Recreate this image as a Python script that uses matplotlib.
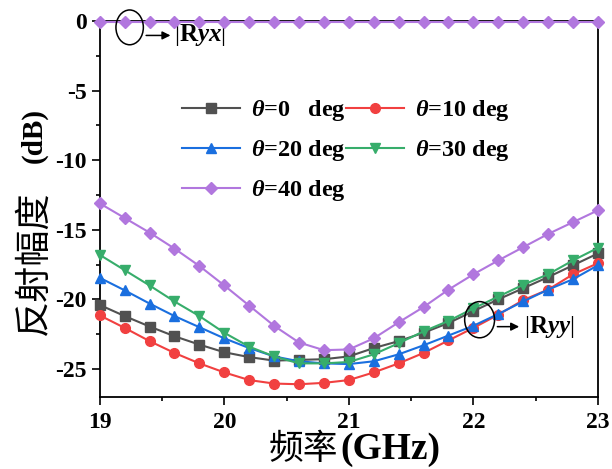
import matplotlib
matplotlib.use('agg')
from matplotlib import pyplot as plt
from matplotlib.patches import Ellipse

plt.rcParams['font.family'] = ['Liberation Serif', 'Noto Sans CJK SC']
plt.rcParams['axes.unicode_minus'] = False
plt.rcParams['mathtext.fontset'] = 'custom'
plt.rcParams['mathtext.rm'] = 'Liberation Serif'
plt.rcParams['mathtext.bf'] = 'Liberation Serif:bold'
plt.rcParams['mathtext.it'] = 'Liberation Serif:italic:bold'

freq = [19.0, 19.2, 19.4, 19.6, 19.8, 20.0, 20.2, 20.4, 20.6, 20.8, 21.0,
        21.2, 21.4, 21.6, 21.8, 22.0, 22.2, 22.4, 22.6, 22.8, 23.0]

ryy_0 = [-20.4, -21.2, -21.95, -22.65, -23.25, -23.8, -24.15, -24.4, -24.35, -24.3, -24.1,
         -23.5, -23.0, -22.4, -21.7, -20.85, -20.0, -19.2, -18.4, -17.55, -16.7]
ryy_10 = [-21.15, -22.05, -23.0, -23.85, -24.6, -25.25, -25.8, -26.05, -26.1, -26.0, -25.8,
          -25.25, -24.6, -23.85, -22.95, -22.05, -21.1, -20.05, -19.3, -18.2, -17.4]
ryy_20 = [-18.45, -19.35, -20.3, -21.2, -22.0, -22.8, -23.5, -24.1, -24.45, -24.6, -24.65,
          -24.45, -23.95, -23.3, -22.6, -21.9, -21.05, -20.15, -19.3, -18.55, -17.55]
ryy_30 = [-16.8, -17.9, -19.0, -20.15, -21.2, -22.4, -23.4, -24.1, -24.6, -24.6, -24.5,
          -23.95, -23.15, -22.3, -21.55, -20.65, -19.8, -18.95, -18.2, -17.2, -16.3]
ryy_40 = [-13.1, -14.15, -15.2, -16.35, -17.6, -19.0, -20.45, -21.9, -23.1, -23.65, -23.6,
          -22.8, -21.65, -20.55, -19.3, -18.2, -17.2, -16.25, -15.3, -14.45, -13.6]
ryx_40 = [-0.05] * 21

labels = [r'$\theta$=0   deg', r'$\theta$=10 deg', r'$\theta$=20 deg',
          r'$\theta$=30 deg', r'$\theta$=40 deg']
colors = ['#515151', '#F14040', '#1A6FDF', '#37AD6B', '#B177DE']
markers = ['s', 'o', '^', 'v', 'D']

fig = plt.figure(figsize=(6.12, 4.69), dpi=100)
ax = fig.add_axes([0.163, 0.154, 0.814, 0.801])

handles = []
for ys, lab, c, m in zip([ryy_0, ryy_10, ryy_20, ryy_30, ryy_40], labels, colors, markers):
    ms = 6 if m == 'D' else 7
    h, = ax.plot(freq, ys, color=c, marker=m, ms=ms, lw=1.5, label=lab, clip_on=False, zorder=3)
    handles.append(h)
ax.plot(freq, ryx_40, color=colors[4], marker='D', ms=6, lw=1.5, clip_on=False, zorder=4)

ax.set_xlim(19, 23)
ax.set_ylim(-27, 0)
ax.set_xticks([19, 20, 21, 22, 23])
ax.set_xticks([19.5, 20.5, 21.5, 22.5], minor=True)
ax.set_yticks([0, -5, -10, -15, -20, -25])
ax.set_yticks([-2.5, -7.5, -12.5, -17.5, -22.5], minor=True)
ax.tick_params(which='both', direction='out', width=1.2, labelsize=17, right=False, top=False)
ax.tick_params(which='major', length=6)
ax.tick_params(which='minor', length=3)
ax.tick_params(axis='x', pad=5)
for lab in ax.get_xticklabels() + ax.get_yticklabels():
    lab.set_fontweight('bold')
for s in ax.spines.values():
    s.set_linewidth(1.3)

# axis titles: Chinese in regular weight, latin part bold serif
fig.text(338 / 612, 0.022, '频率', fontsize=25, family='Noto Sans CJK SC',
         ha='right', va='baseline')
fig.text(340 / 612, 0.022, '(GHz)', fontsize=27, fontweight='bold', ha='left', va='baseline')
fig.text(34 / 612, 1 - 335 / 469, '反射幅度', fontsize=26, family='Noto Sans CJK SC',
         rotation=90, ha='center', va='bottom')
fig.text(34 / 612, 1 - 163 / 469, '(dB)', fontsize=21, fontweight='bold',
         rotation=90, ha='center', va='bottom')

order = [0, 2, 4, 1, 3]
ax.legend([handles[i] for i in order], [labels[i] for i in order], ncol=2, frameon=False,
          loc='upper left', bbox_to_anchor=(0.165, 0.795), borderaxespad=0, borderpad=0,
          handlelength=2.4, columnspacing=0.0, handletextpad=0.45, labelspacing=0.62,
          prop={'weight': 'bold', 'size': 17.5})

# annotations
ax.add_patch(Ellipse((19.24, -0.45), 0.22, 2.5, fill=False, ec='black', lw=1.1, clip_on=False, zorder=5))
ax.annotate('', xy=(19.59, -1.03), xytext=(19.35, -1.03),
            arrowprops=dict(arrowstyle='-|>', color='black', lw=1.1, mutation_scale=12))
ax.text(19.6, -1.03, r'$|\mathbf{R}\mathit{yx}|$', fontsize=18, va='center', ha='left')

ax.add_patch(Ellipse((22.05, -21.46), 0.24, 2.6, fill=False, ec='black', lw=1.1, zorder=5))
ax.annotate('', xy=(22.39, -21.96), xytext=(22.17, -21.96),
            arrowprops=dict(arrowstyle='-|>', color='black', lw=1.1, mutation_scale=12))
ax.text(22.41, -21.96, r'$|\mathbf{R}\mathit{yy}|$', fontsize=18, va='center', ha='left')

fig.savefig('out.png', dpi=100, facecolor='white')
plt.close(fig)
